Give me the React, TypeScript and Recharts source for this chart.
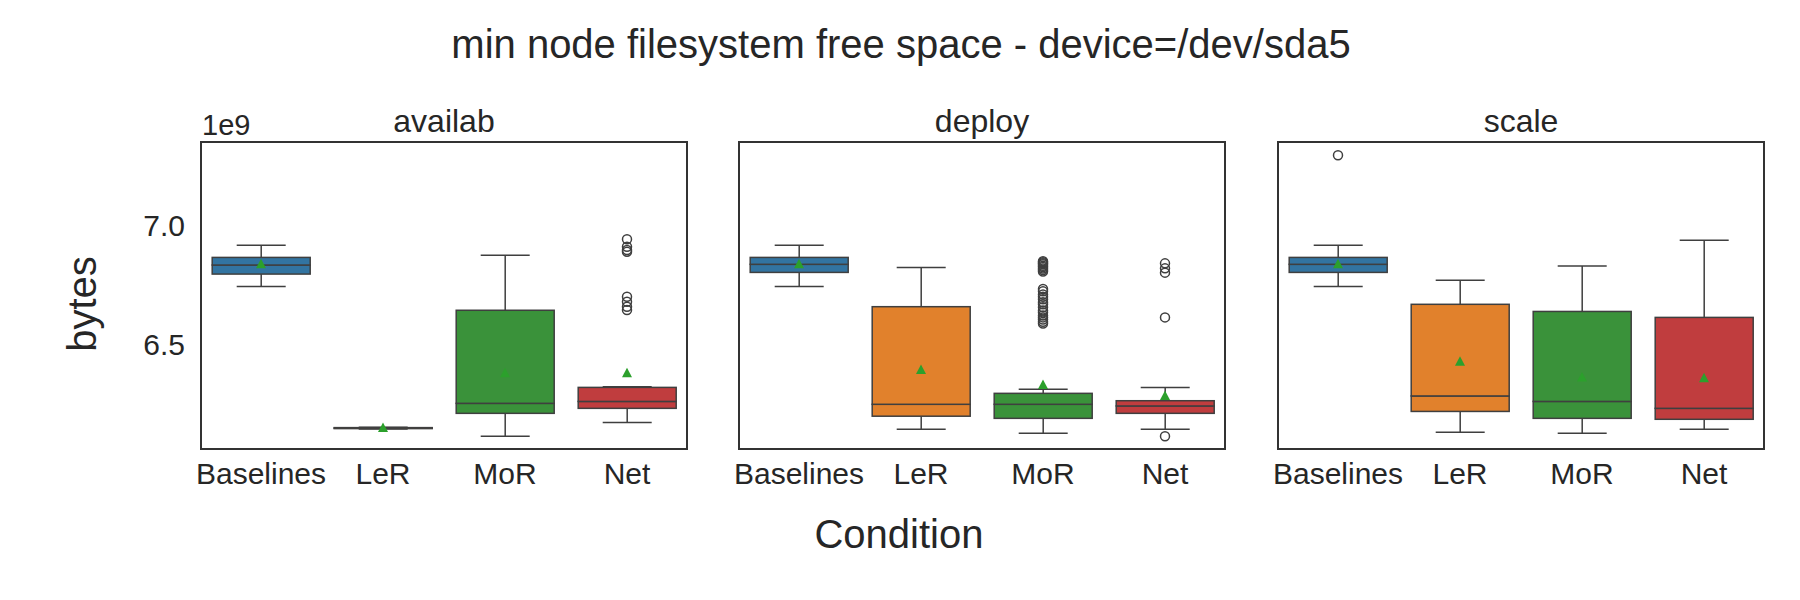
import React from 'react';
import { ComposedChart, Bar, Line, XAxis, YAxis } from 'recharts';

// values are in units of 1e9 bytes (the axis shows a 1e9 offset label)
const CATEGORIES = ['Baselines', 'LeR', 'MoR', 'Net'];
const PANEL_TITLES = ['availab', 'deploy', 'scale'];
const Y_TICKS = [6.5, 7.0];
const Y_DOMAIN: [number, number] = [6.055, 7.353];

const availabLow = [6.742, 6.143, 6.113, 6.171];
const availabQ1 = [6.794, 6.145, 6.209, 6.23];
const availabMedian = [6.832, 6.147, 6.251, 6.259];
const availabQ3 = [6.864, 6.149, 6.642, 6.318];
const availabHigh = [6.915, 6.151, 6.873, 6.321];
const availabMean = [6.835, 6.147, 6.377, 6.377];
const availabOutliers = [[], [], [], [6.94, 6.909, 6.895, 6.888, 6.699, 6.678, 6.657, 6.643]];

const deployLow = [6.742, 6.142, 6.125, 6.142];
const deployQ1 = [6.801, 6.197, 6.188, 6.209];
const deployMedian = [6.835, 6.247, 6.247, 6.24];
const deployQ3 = [6.864, 6.657, 6.293, 6.262];
const deployHigh = [6.915, 6.822, 6.31, 6.318];
const deployMean = [6.835, 6.391, 6.328, 6.282];
const deployOutliers = [
  [],
  [],
  [6.848, 6.844, 6.839, 6.835, 6.829, 6.824, 6.817, 6.811, 6.805, 6.731, 6.722, 6.708, 6.699, 6.688, 6.676, 6.667, 6.655, 6.641, 6.633, 6.62, 6.612, 6.603, 6.594, 6.586],
  [6.839, 6.818, 6.8, 6.612, 6.113],
];

const scaleLow = [6.742, 6.13, 6.125, 6.142];
const scaleQ1 = [6.801, 6.217, 6.188, 6.184];
const scaleMedian = [6.835, 6.282, 6.259, 6.23];
const scaleQ3 = [6.864, 6.667, 6.637, 6.612];
const scaleHigh = [6.915, 6.768, 6.828, 6.936];
const scaleMean = [6.835, 6.426, 6.36, 6.356];
const scaleOutliers = [[7.293], [], [], []];

const COLORS = ['#3274a1', '#e1812c', '#3a923a', '#c03d3e'];
const LINE = '#3f3f3f';
const MEAN_COLOR = '#2ca02c';
const TEXT = '#262626';
const FONT = '"Liberation Sans", Arial, Helvetica, sans-serif';

const PLOT_TOP = 141;
const PLOT_H = 309;
const PLOT_W = 488;
const PANEL_LEFTS = [200, 738, 1277];
const Y_AXIS_W = 70;
const X_AXIS_H = 60;
const SIDE_PAD = 24;

const buildRows = (
  low: number[], q1: number[], med: number[], q3: number[], high: number[],
  mean: number[], outliers: number[][]
) =>
  CATEGORIES.map((cat, i) => {
    const row: any = {
      cat,
      base: low[i],
      lw: q1[i] - low[i],
      bl: med[i] - q1[i],
      bu: q3[i] - med[i],
      uw: high[i] - q3[i],
      mean: mean[i],
    };
    outliers[i].forEach((v, k) => { row['o' + k] = v; });
    return row;
  });

const panels = [
  { rows: buildRows(availabLow, availabQ1, availabMedian, availabQ3, availabHigh, availabMean, availabOutliers), n: 8 },
  { rows: buildRows(deployLow, deployQ1, deployMedian, deployQ3, deployHigh, deployMean, deployOutliers), n: 24 },
  { rows: buildRows(scaleLow, scaleQ1, scaleMedian, scaleQ3, scaleHigh, scaleMean, scaleOutliers), n: 1 },
];

const colorOf = (p: any) => COLORS[CATEGORIES.indexOf(p.payload?.cat)] || COLORS[0];

const Empty = () => <g />;

const LowerWhisker = (p: any) => {
  const cx = p.x + p.width / 2;
  const yb = p.y + p.height;
  return (
    <g stroke={LINE} strokeWidth={1.5}>
      <line x1={cx} x2={cx} y1={p.y} y2={yb} />
      <line x1={cx - p.width / 4} x2={cx + p.width / 4} y1={yb} y2={yb} />
    </g>
  );
};

const UpperWhisker = (p: any) => {
  const cx = p.x + p.width / 2;
  return (
    <g stroke={LINE} strokeWidth={1.5}>
      <line x1={cx} x2={cx} y1={p.y} y2={p.y + p.height} />
      <line x1={cx - p.width / 4} x2={cx + p.width / 4} y1={p.y} y2={p.y} />
    </g>
  );
};

const BoxPart = (p: any) => (
  <rect x={p.x} y={p.y} width={p.width} height={Math.max(p.height, 0.5)} fill={colorOf(p)} stroke={LINE} strokeWidth={1.5} />
);

const MeanDot = (p: any) => {
  const { cx, cy, index } = p;
  if (cy == null || isNaN(cy)) return <g key={'m' + index} />;
  return (
    <polygon key={'m' + index} points={`${cx},${cy - 5.5} ${cx - 5},${cy + 4} ${cx + 5},${cy + 4}`} fill={MEAN_COLOR} />
  );
};

const OutlierDot = (p: any) => {
  const { cx, cy, index, value } = p;
  if (value == null || cy == null || isNaN(cy)) return <g key={'o' + index} />;
  return <circle key={'o' + index} cx={cx} cy={cy} r={4.5} fill="none" stroke={LINE} strokeWidth={1.5} />;
};

const tickStyle = { fontSize: 30, fill: TEXT, fontFamily: FONT };

const Panel = ({ idx }: { idx: number }) => {
  const showY = idx === 0;
  const { rows, n } = panels[idx];
  const leftPad = showY ? 0 : SIDE_PAD;
  const leftW = showY ? Y_AXIS_W : leftPad;
  const w = leftW + PLOT_W + SIDE_PAD;
  const outlierKeys = Array.from({ length: n }, (_, k) => 'o' + k);
  return (
    <div style={{ position: 'absolute', left: PANEL_LEFTS[idx] - leftW, top: PLOT_TOP }}>
      <ComposedChart width={w} height={PLOT_H + X_AXIS_H} data={rows} margin={{ top: 0, right: SIDE_PAD, bottom: 0, left: leftPad }} barCategoryGap="10%">
        <XAxis dataKey="cat" height={X_AXIS_H} tickLine={false} axisLine={false} tickSize={0} tickMargin={13} tick={tickStyle} interval={0} />
        <YAxis
          domain={Y_DOMAIN}
          allowDataOverflow
          ticks={Y_TICKS}
          hide={!showY}
          width={Y_AXIS_W}
          tickLine={false}
          axisLine={false}
          tickSize={0}
          tickMargin={15}
          tick={tickStyle}
          tickFormatter={(v: number) => v.toFixed(1)}
        />
        <Bar dataKey="base" stackId="box" shape={Empty} isAnimationActive={false} />
        <Bar dataKey="lw" stackId="box" shape={LowerWhisker} isAnimationActive={false} />
        <Bar dataKey="bl" stackId="box" shape={BoxPart} isAnimationActive={false} />
        <Bar dataKey="bu" stackId="box" shape={BoxPart} isAnimationActive={false} />
        <Bar dataKey="uw" stackId="box" shape={UpperWhisker} isAnimationActive={false} />
        {outlierKeys.map((k) => (
          <Line key={k} dataKey={k} stroke="none" dot={OutlierDot} activeDot={false} isAnimationActive={false} connectNulls={false} />
        ))}
        <Line dataKey="mean" stroke="none" dot={MeanDot} activeDot={false} isAnimationActive={false} />
      </ComposedChart>
      <div
        style={{
          position: 'absolute',
          left: leftW,
          top: 0,
          width: PLOT_W,
          height: PLOT_H,
          border: '2px solid #333',
          boxSizing: 'border-box',
          pointerEvents: 'none',
        }}
      />
    </div>
  );
};

export default function App() {
  return (
    <div style={{ position: 'absolute', left: 0, top: 0, width: 1800, height: 600, background: '#fff', fontFamily: FONT }}>
      {PANEL_TITLES.map((_, i) => <Panel key={i} idx={i} />)}
      <svg width={1800} height={600} style={{ position: 'absolute', left: 0, top: 0, pointerEvents: 'none' }}>
        <g fill={TEXT} fontFamily={FONT}>
          <text x={901} y={58} fontSize={40} textAnchor="middle">min node filesystem free space - device=/dev/sda5</text>
          {PANEL_TITLES.map((t, i) => (
            <text key={t} x={PANEL_LEFTS[i] + PLOT_W / 2} y={132} fontSize={32} textAnchor="middle">{t}</text>
          ))}
          <text x={202} y={135} fontSize={29}>1e9</text>
          <text x={96} y={304} fontSize={40} textAnchor="middle" transform="rotate(-90 96 304)">bytes</text>
          <text x={899} y={548} fontSize={40} textAnchor="middle">Condition</text>
        </g>
      </svg>
    </div>
  );
}
